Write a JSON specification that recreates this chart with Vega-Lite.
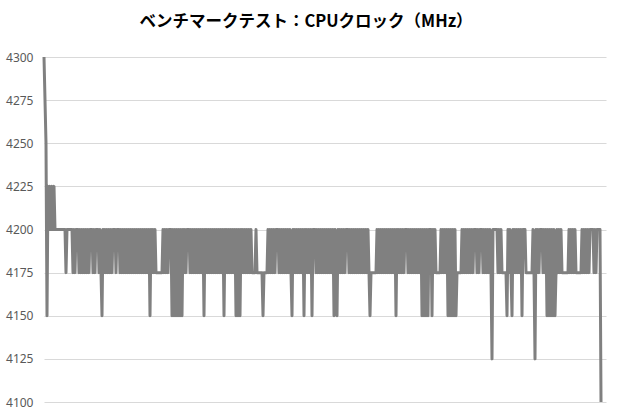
{
  "$schema": "https://vega.github.io/schema/vega-lite/v6.json",
  "width": 562,
  "height": 345,
  "autosize": "none",
  "padding": {"left": 44, "top": 57, "right": 14, "bottom": 13},
  "background": "white",
  "config": {"view": {"stroke": null}},
  "title": {
    "text": "ベンチマークテスト：CPUクロック（MHz）",
    "font": "Noto Sans CJK JP",
    "fontSize": 16.5,
    "fontWeight": "bold",
    "color": "#000000",
    "anchor": "middle",
    "dx": -19,
    "offset": 21
  },
  "data": {"values": [
    {"x":0,"y":4300},{"x":1,"y":4275},{"x":2,"y":4250},{"x":3,"y":4150},{"x":4,"y":4225},{"x":5,"y":4200},{"x":6,"y":4225},{"x":7,"y":4200},{"x":8,"y":4225},{"x":9,"y":4200},{"x":10,"y":4225},{"x":11,"y":4200},
    {"x":21,"y":4200},{"x":22,"y":4175},{"x":23,"y":4200},{"x":28,"y":4200},
    {"x":29,"y":4175},{"x":30,"y":4200},{"x":31,"y":4175},{"x":32,"y":4200},{"x":34,"y":4200},
    {"x":35,"y":4175},{"x":36,"y":4200},{"x":37,"y":4175},{"x":38,"y":4200},{"x":39,"y":4175},{"x":40,"y":4200},{"x":41,"y":4175},{"x":42,"y":4200},{"x":43,"y":4175},{"x":44,"y":4200},{"x":45,"y":4175},{"x":46,"y":4200},{"x":48,"y":4200},
    {"x":49,"y":4175},{"x":50,"y":4200},{"x":51,"y":4175},{"x":52,"y":4200},{"x":54,"y":4200},
    {"x":55,"y":4175},{"x":56,"y":4200},{"x":57,"y":4175},{"x":58,"y":4150},{"x":59,"y":4200},{"x":60,"y":4175},{"x":61,"y":4200},{"x":62,"y":4175},{"x":63,"y":4200},{"x":64,"y":4175},{"x":65,"y":4200},{"x":66,"y":4175},{"x":67,"y":4200},{"x":68,"y":4175},{"x":69,"y":4200},{"x":71,"y":4200},
    {"x":72,"y":4175},{"x":73,"y":4200},{"x":75,"y":4200},
    {"x":76,"y":4175},{"x":77,"y":4200},{"x":78,"y":4175},{"x":79,"y":4200},{"x":80,"y":4175},{"x":81,"y":4200},{"x":82,"y":4175},{"x":83,"y":4200},{"x":84,"y":4175},{"x":85,"y":4200},{"x":86,"y":4175},{"x":87,"y":4200},{"x":88,"y":4175},{"x":89,"y":4200},{"x":90,"y":4175},{"x":91,"y":4200},{"x":92,"y":4175},{"x":93,"y":4200},{"x":94,"y":4175},{"x":95,"y":4200},{"x":96,"y":4175},{"x":97,"y":4200},{"x":98,"y":4175},{"x":99,"y":4200},{"x":100,"y":4175},{"x":101,"y":4200},{"x":102,"y":4175},{"x":103,"y":4200},{"x":104,"y":4175},{"x":105,"y":4200},{"x":106,"y":4150},{"x":107,"y":4200},{"x":108,"y":4175},{"x":109,"y":4200},{"x":110,"y":4175},{"x":111,"y":4200},{"x":112,"y":4175},{"x":118,"y":4175},
    {"x":119,"y":4200},{"x":120,"y":4175},{"x":121,"y":4200},{"x":122,"y":4175},{"x":123,"y":4200},{"x":124,"y":4175},{"x":125,"y":4200},{"x":127,"y":4200},
    {"x":128,"y":4150},{"x":129,"y":4200},{"x":130,"y":4150},{"x":131,"y":4200},{"x":132,"y":4150},{"x":133,"y":4200},{"x":134,"y":4150},{"x":135,"y":4200},{"x":136,"y":4150},{"x":137,"y":4200},{"x":138,"y":4150},{"x":139,"y":4200},{"x":140,"y":4175},{"x":141,"y":4200},{"x":142,"y":4175},{"x":143,"y":4200},{"x":145,"y":4200},
    {"x":146,"y":4175},{"x":147,"y":4200},{"x":148,"y":4175},{"x":149,"y":4200},{"x":150,"y":4175},{"x":151,"y":4200},{"x":152,"y":4175},{"x":153,"y":4200},{"x":154,"y":4175},{"x":155,"y":4200},{"x":156,"y":4175},{"x":157,"y":4200},{"x":158,"y":4175},{"x":159,"y":4200},{"x":160,"y":4150},{"x":161,"y":4200},{"x":162,"y":4175},{"x":163,"y":4200},{"x":164,"y":4175},{"x":165,"y":4200},{"x":166,"y":4175},{"x":167,"y":4200},{"x":168,"y":4175},{"x":169,"y":4200},{"x":170,"y":4175},{"x":171,"y":4200},{"x":172,"y":4175},{"x":173,"y":4200},{"x":174,"y":4175},{"x":175,"y":4200},{"x":176,"y":4175},{"x":177,"y":4200},{"x":178,"y":4175},{"x":179,"y":4200},{"x":180,"y":4150},{"x":181,"y":4200},{"x":182,"y":4175},{"x":183,"y":4200},{"x":184,"y":4175},{"x":185,"y":4200},{"x":186,"y":4175},{"x":187,"y":4200},{"x":188,"y":4175},{"x":189,"y":4200},{"x":190,"y":4175},{"x":191,"y":4200},{"x":192,"y":4150},{"x":193,"y":4200},{"x":194,"y":4150},{"x":195,"y":4200},{"x":196,"y":4150},{"x":197,"y":4200},{"x":198,"y":4175},{"x":199,"y":4200},{"x":200,"y":4175},{"x":201,"y":4200},{"x":202,"y":4175},{"x":203,"y":4200},{"x":204,"y":4175},{"x":205,"y":4200},{"x":206,"y":4175},{"x":207,"y":4200},{"x":208,"y":4175},
    {"x":211,"y":4175},{"x":212,"y":4200},{"x":213,"y":4175},{"x":218,"y":4175},{"x":219,"y":4150},{"x":220,"y":4175},{"x":223,"y":4175},
    {"x":224,"y":4200},{"x":225,"y":4175},{"x":226,"y":4200},{"x":227,"y":4175},{"x":228,"y":4200},{"x":229,"y":4175},{"x":230,"y":4200},{"x":231,"y":4175},{"x":232,"y":4200},{"x":234,"y":4200},
    {"x":235,"y":4175},{"x":236,"y":4200},{"x":237,"y":4175},{"x":238,"y":4200},{"x":239,"y":4175},{"x":240,"y":4200},{"x":241,"y":4175},{"x":242,"y":4200},{"x":243,"y":4175},{"x":244,"y":4200},{"x":245,"y":4175},{"x":246,"y":4200},{"x":247,"y":4175},{"x":248,"y":4150},{"x":249,"y":4200},{"x":250,"y":4175},{"x":251,"y":4200},{"x":252,"y":4175},{"x":253,"y":4200},{"x":254,"y":4175},{"x":255,"y":4200},{"x":256,"y":4175},{"x":257,"y":4200},{"x":258,"y":4175},{"x":259,"y":4200},{"x":260,"y":4150},{"x":261,"y":4200},{"x":262,"y":4175},{"x":263,"y":4200},{"x":264,"y":4175},{"x":265,"y":4200},{"x":266,"y":4175},{"x":267,"y":4200},{"x":268,"y":4150},{"x":269,"y":4200},{"x":271,"y":4200},
    {"x":272,"y":4175},{"x":273,"y":4200},{"x":274,"y":4175},{"x":275,"y":4200},{"x":276,"y":4175},{"x":277,"y":4200},{"x":278,"y":4175},{"x":279,"y":4200},{"x":280,"y":4175},{"x":281,"y":4200},{"x":282,"y":4175},{"x":283,"y":4200},{"x":284,"y":4175},{"x":285,"y":4200},{"x":286,"y":4175},{"x":287,"y":4200},{"x":288,"y":4175},{"x":289,"y":4200},{"x":290,"y":4150},{"x":291,"y":4200},{"x":292,"y":4175},{"x":293,"y":4150},{"x":294,"y":4200},{"x":295,"y":4175},{"x":296,"y":4200},{"x":297,"y":4175},{"x":298,"y":4200},{"x":299,"y":4175},{"x":300,"y":4200},{"x":301,"y":4175},{"x":302,"y":4200},{"x":304,"y":4200},
    {"x":305,"y":4175},{"x":306,"y":4200},{"x":307,"y":4175},{"x":308,"y":4200},{"x":309,"y":4175},{"x":310,"y":4200},{"x":311,"y":4175},{"x":312,"y":4200},{"x":313,"y":4175},{"x":314,"y":4200},{"x":315,"y":4175},{"x":316,"y":4200},{"x":317,"y":4175},{"x":318,"y":4200},{"x":319,"y":4175},{"x":320,"y":4200},{"x":321,"y":4175},{"x":322,"y":4200},{"x":323,"y":4175},{"x":324,"y":4200},{"x":325,"y":4175},{"x":326,"y":4150},{"x":327,"y":4175},{"x":332,"y":4175},
    {"x":333,"y":4200},{"x":334,"y":4175},{"x":335,"y":4200},{"x":336,"y":4175},{"x":337,"y":4200},{"x":338,"y":4175},{"x":339,"y":4200},{"x":340,"y":4175},{"x":341,"y":4200},{"x":342,"y":4175},{"x":343,"y":4200},{"x":344,"y":4175},{"x":345,"y":4200},{"x":346,"y":4175},{"x":347,"y":4200},{"x":348,"y":4175},{"x":349,"y":4200},{"x":350,"y":4175},{"x":351,"y":4200},{"x":352,"y":4150},{"x":353,"y":4200},{"x":354,"y":4175},{"x":355,"y":4200},{"x":356,"y":4175},{"x":357,"y":4200},{"x":358,"y":4175},{"x":359,"y":4200},{"x":360,"y":4175},{"x":361,"y":4200},{"x":363,"y":4200},
    {"x":364,"y":4175},{"x":365,"y":4200},{"x":366,"y":4175},{"x":367,"y":4200},{"x":368,"y":4175},{"x":369,"y":4200},{"x":370,"y":4175},{"x":371,"y":4200},{"x":372,"y":4175},{"x":373,"y":4200},{"x":374,"y":4175},{"x":375,"y":4200},{"x":376,"y":4175},{"x":377,"y":4200},{"x":378,"y":4150},{"x":379,"y":4200},{"x":380,"y":4150},{"x":381,"y":4200},{"x":382,"y":4150},{"x":383,"y":4200},{"x":384,"y":4150},{"x":385,"y":4200},{"x":387,"y":4200},
    {"x":388,"y":4150},{"x":389,"y":4200},{"x":390,"y":4175},{"x":391,"y":4200},{"x":392,"y":4175},{"x":396,"y":4175},
    {"x":397,"y":4200},{"x":398,"y":4175},{"x":399,"y":4200},{"x":400,"y":4175},{"x":401,"y":4200},{"x":402,"y":4175},{"x":403,"y":4200},{"x":404,"y":4150},{"x":405,"y":4200},{"x":406,"y":4150},{"x":407,"y":4200},{"x":408,"y":4150},{"x":409,"y":4200},{"x":410,"y":4150},{"x":411,"y":4200},{"x":412,"y":4150},{"x":413,"y":4175},{"x":417,"y":4175},
    {"x":418,"y":4200},{"x":419,"y":4175},{"x":420,"y":4200},{"x":421,"y":4175},{"x":422,"y":4200},{"x":423,"y":4175},{"x":424,"y":4200},{"x":425,"y":4175},{"x":426,"y":4200},{"x":427,"y":4175},{"x":428,"y":4200},{"x":429,"y":4175},{"x":430,"y":4200},{"x":432,"y":4200},
    {"x":433,"y":4175},{"x":434,"y":4200},{"x":435,"y":4175},{"x":436,"y":4200},{"x":438,"y":4200},
    {"x":439,"y":4175},{"x":440,"y":4200},{"x":441,"y":4175},{"x":442,"y":4200},{"x":443,"y":4175},{"x":444,"y":4200},{"x":445,"y":4175},{"x":446,"y":4200},{"x":447,"y":4175},{"x":448,"y":4125},{"x":449,"y":4200},{"x":453,"y":4200},
    {"x":454,"y":4175},{"x":455,"y":4200},{"x":456,"y":4175},{"x":457,"y":4200},{"x":458,"y":4175},{"x":462,"y":4175},
    {"x":463,"y":4150},{"x":464,"y":4200},{"x":465,"y":4175},{"x":466,"y":4200},{"x":467,"y":4175},{"x":468,"y":4150},{"x":469,"y":4200},{"x":470,"y":4175},{"x":471,"y":4200},{"x":472,"y":4175},{"x":473,"y":4200},{"x":474,"y":4175},{"x":475,"y":4200},{"x":476,"y":4175},{"x":477,"y":4200},{"x":478,"y":4150},{"x":479,"y":4200},{"x":481,"y":4200},
    {"x":482,"y":4175},{"x":488,"y":4175},
    {"x":489,"y":4200},{"x":490,"y":4175},{"x":491,"y":4125},{"x":492,"y":4200},{"x":493,"y":4175},{"x":494,"y":4200},{"x":495,"y":4175},{"x":496,"y":4200},{"x":498,"y":4200},
    {"x":499,"y":4175},{"x":500,"y":4200},{"x":501,"y":4175},{"x":502,"y":4200},{"x":503,"y":4150},{"x":504,"y":4200},{"x":505,"y":4150},{"x":506,"y":4200},{"x":507,"y":4150},{"x":508,"y":4200},{"x":509,"y":4150},{"x":510,"y":4200},{"x":511,"y":4150},{"x":512,"y":4175},{"x":513,"y":4200},{"x":514,"y":4175},{"x":515,"y":4200},{"x":516,"y":4175},{"x":517,"y":4200},{"x":518,"y":4175},{"x":524,"y":4175},
    {"x":525,"y":4200},{"x":526,"y":4175},{"x":527,"y":4200},{"x":528,"y":4175},{"x":529,"y":4200},{"x":530,"y":4175},{"x":531,"y":4200},{"x":532,"y":4175},{"x":537,"y":4175},
    {"x":538,"y":4200},{"x":539,"y":4175},{"x":540,"y":4200},{"x":541,"y":4175},{"x":542,"y":4200},{"x":543,"y":4175},{"x":544,"y":4200},{"x":545,"y":4175},{"x":546,"y":4200},{"x":549,"y":4200},
    {"x":550,"y":4175},{"x":551,"y":4200},{"x":552,"y":4175},{"x":553,"y":4200},{"x":556,"y":4200},{"x":557,"y":4100}
  ]},
  "mark": {"type": "line", "color": "#808080", "strokeWidth": 3, "strokeJoin": "round"},
  "encoding": {
    "x": {"field": "x", "type": "quantitative", "scale": {"domain": [0, 562], "nice": false, "zero": false}, "axis": null},
    "y": {
      "field": "y", "type": "quantitative",
      "scale": {"domain": [4100, 4300], "nice": false, "zero": false},
      "axis": {
        "title": null,
        "format": "d",
        "values": [4100, 4125, 4150, 4175, 4200, 4225, 4250, 4275, 4300],
        "domain": false,
        "ticks": false,
        "labelPadding": 11,
        "labelFont": "Noto Sans",
        "labelFontSize": 12,
        "labelColor": "#595959",
        "gridColor": "#d9d9d9",
        "gridWidth": 1
      }
    }
  }
}
